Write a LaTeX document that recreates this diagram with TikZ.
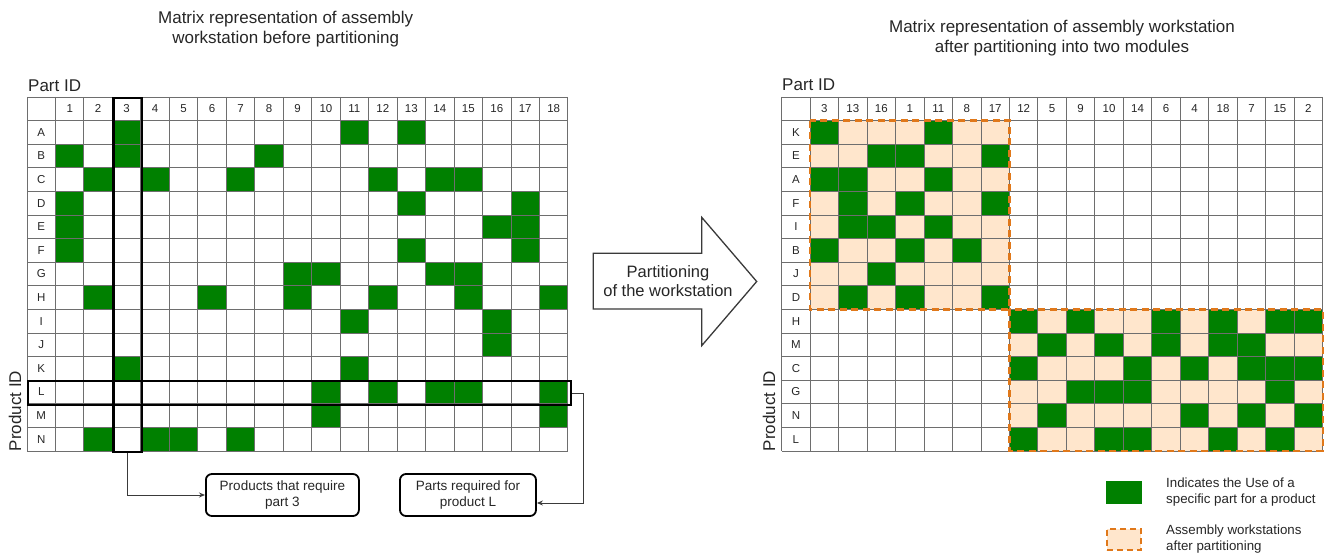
\documentclass[tikz,border=0pt]{standalone}
\usepackage{fontspec}
\setmainfont{Liberation Sans}
\usetikzlibrary{calc,arrows.meta}

\definecolor{usegreen}{HTML}{008000}
\definecolor{modfill}{HTML}{FFE6CC}
\definecolor{modline}{HTML}{E0781A}
\definecolor{gridgray}{HTML}{6E6E6E}
\definecolor{ink}{HTML}{262626}
\definecolor{linkgray}{HTML}{3A3A3A}

\begin{document}
\begin{tikzpicture}[x=1pt,y=-1pt,
  gridln/.style={draw=gridgray,line width=0.9pt},
  cellfill/.style={fill=usegreen},
  lbl/.style={font=\fontsize{11.5}{13}\selectfont,text=ink,inner sep=0pt},
  titletext/.style={font=\fontsize{17}{20.5}\selectfont,align=center,text=ink,inner sep=0pt},
  axistext/.style={font=\fontsize{17}{20}\selectfont,text=ink,inner sep=0pt},
  hilite/.style={draw=black,line width=2.2pt,inner sep=0pt,anchor=north west},
  callout/.style={draw=black,line width=1.8pt,rounded corners=6pt,align=center,
    font=\fontsize{13.5}{16.5}\selectfont,text=ink,minimum height=42pt,inner sep=0pt},
  link/.style={draw=linkgray,line width=1pt,-{Stealth[length=6pt,width=5pt]}},
  modulebox/.style={draw=modline,line width=2.2pt,dash pattern=on 7pt off 4.5pt},
  legendtext/.style={font=\fontsize{13.3}{16}\selectfont,align=left,text=ink,inner sep=0pt,anchor=west}
]
\useasboundingbox (0,0) rectangle (1330,556);

\def\cw{28.47}
\def\ch{23.6}
\def\Lx{27}
\def\Rx{781.7}
\def\Ty{97}

% ---------- left matrix: before partitioning ----------
\foreach \r/\cols in {1/{3,11,13},2/{1,3,8},3/{2,4,7,12,14,15},4/{1,13,17},
    5/{1,16,17},6/{1,13,17},7/{9,10,14,15},8/{2,6,9,12,15,18},9/{11,16},
    10/{16},11/{3,11},12/{10,12,14,15,18},13/{10,18},14/{2,4,5,7}}
  \foreach \c in \cols
    \fill[cellfill] ({\Lx+\c*\cw},{\Ty+\r*\ch}) rectangle ++(\cw,\ch);

\foreach \i in {0,...,19}
  \draw[gridln] ({\Lx+\i*\cw},\Ty) -- ++(0,{15*\ch});
\foreach \j in {0,...,15}
  \draw[gridln] (\Lx,{\Ty+\j*\ch}) -- ++({19*\cw},0);

\foreach \lab [count=\i] in {1,2,3,4,5,6,7,8,9,10,11,12,13,14,15,16,17,18}
  \node[lbl] (lc\i) at ({\Lx+(\i+0.5)*\cw},{\Ty+0.5*\ch}) {\lab};
\foreach \lab [count=\i] in {A,B,C,D,E,F,G,H,I,J,K,L,M,N}
  \node[lbl] (lr\i) at ({\Lx+0.5*\cw},{\Ty+(\i+0.5)*\ch}) {\lab};

\node[titletext] (ltitle) at (285.7,29)
  {Matrix representation of assembly\\workstation before partitioning};
\node[axistext,anchor=base west] (lpart) at (28,91.5) {Part ID};
\node[axistext,rotate=90] (lprod) at (15,411) {Product ID};

% highlighted column (part 3) and row (product L)
\node[hilite,minimum width=\cw,minimum height={15*\ch}] (col3) at ({\Lx+3*\cw},\Ty) {};
\node[hilite,minimum width=543,minimum height=\ch] (rowL) at (\Lx,{\Ty+12*\ch}) {};

\node[callout,minimum width=153] (b1) at (282.4,495) {Products that require\\part 3};
\node[callout,minimum width=136] (b2) at (468,495) {Parts required for\\product L};

\draw[link] (col3.south) |- (b1.west);
\draw[link] (rowL.east) -- ++(11,0) |- ($(b2.east)+(0,8)$);

% ---------- partitioning arrow ----------
\draw[draw=linkgray,line width=1.3pt,fill=white]
  (593.3,253.3) -- (701.7,253.3) -- (701.7,217.3) -- (756.7,281.5)
  -- (701.7,345.7) -- (701.7,309) -- (593.3,309) -- cycle;
\node[font=\fontsize{16.5}{19.5}\selectfont,align=center,text=ink,inner sep=0pt]
  (arrowtxt) at (668,281) {Partitioning\\of the workstation};

% ---------- right matrix: after partitioning ----------
\fill[modfill] ({\Rx+\cw},{\Ty+\ch}) rectangle ({\Rx+8*\cw},{\Ty+9*\ch});
\fill[modfill] ({\Rx+8*\cw},{\Ty+9*\ch}) rectangle ({\Rx+19*\cw},{\Ty+15*\ch});

\foreach \r/\cols in {1/{1,5},2/{3,4,7},3/{1,2,5},4/{2,4,7},5/{2,3,5},6/{1,4,6},
    7/{3},8/{2,4,7},9/{8,10,13,15,17,18},10/{9,11,13,15,16},
    11/{8,12,14,16,17,18},12/{10,11,12,17},13/{9,14,16,18},14/{8,11,12,15,17}}
  \foreach \c in \cols
    \fill[cellfill] ({\Rx+\c*\cw},{\Ty+\r*\ch}) rectangle ++(\cw,\ch);

\foreach \i in {0,...,19}
  \draw[gridln] ({\Rx+\i*\cw},\Ty) -- ++(0,{15*\ch});
\foreach \j in {0,...,15}
  \draw[gridln] (\Rx,{\Ty+\j*\ch}) -- ++({19*\cw},0);

\draw[modulebox] ({\Rx+\cw},{\Ty+\ch}) rectangle ({\Rx+8*\cw},{\Ty+9*\ch});
\draw[modulebox] ({\Rx+8*\cw},{\Ty+9*\ch}) rectangle ({\Rx+19*\cw},{\Ty+15*\ch});

\foreach \lab [count=\i] in {3,13,16,1,11,8,17,12,5,9,10,14,6,4,18,7,15,2}
  \node[lbl] (rc\i) at ({\Rx+(\i+0.5)*\cw},{\Ty+0.5*\ch}) {\lab};
\foreach \lab [count=\i] in {K,E,A,F,I,B,J,D,H,M,C,G,N,L}
  \node[lbl] (rr\i) at ({\Rx+0.5*\cw},{\Ty+(\i+0.5)*\ch}) {\lab};

\node[titletext] (rtitle) at (1062,38)
  {Matrix representation of assembly workstation\\after partitioning into two modules};
\node[axistext,anchor=base west] (rpart) at (782,90.5) {Part ID};
\node[axistext,rotate=90] (rprod) at (769,411) {Product ID};

% ---------- legend ----------
\node[fill=usegreen,minimum width=36,minimum height=23.3,inner sep=0pt] (lg1) at (1124,492.3) {};
\node[legendtext] (lt1) at (1166,492.3) {Indicates the Use of a\\specific part for a product};
\node[fill=modfill,draw=modline,line width=2.2pt,dash pattern=on 6pt off 4pt,
  minimum width=34,minimum height=21,inner sep=0pt] (lg2) at (1124,539.2) {};
\node[legendtext] (lt2) at (1166,539.2) {Assembly workstations\\after partitioning};
\end{tikzpicture}
\end{document}
